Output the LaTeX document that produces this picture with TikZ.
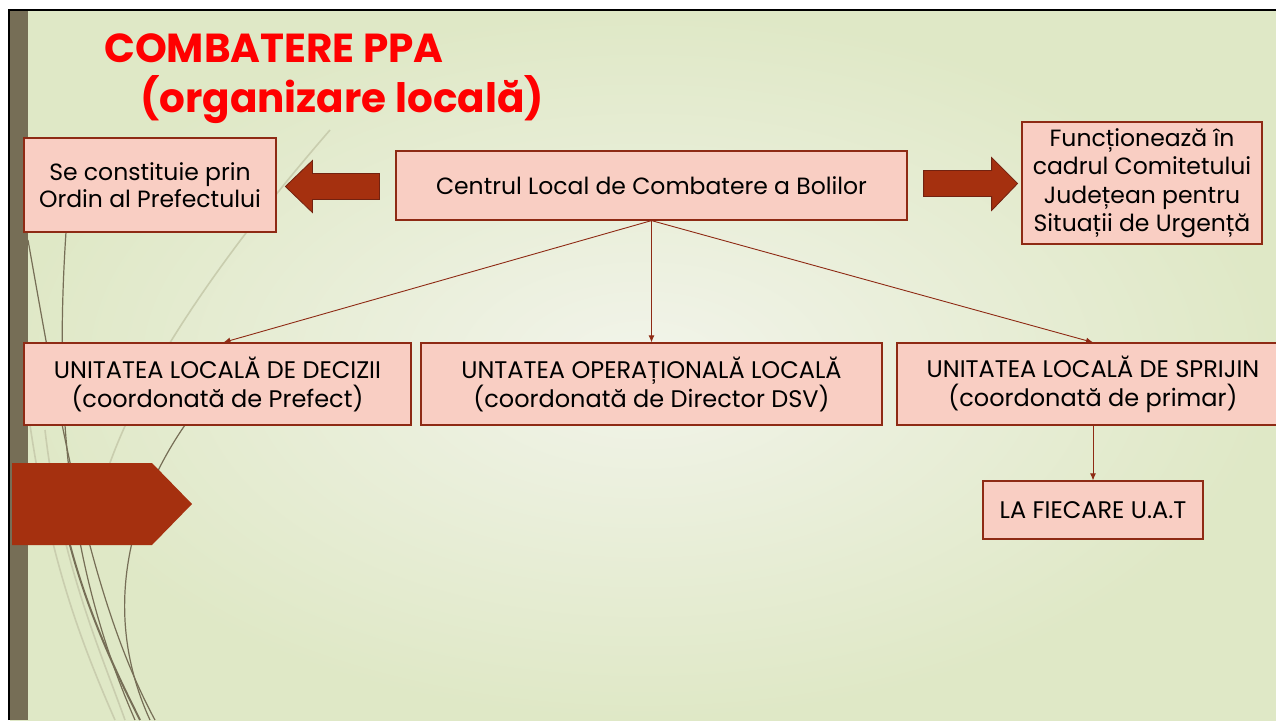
\documentclass[tikz,border=0pt]{standalone}
\usepackage{fontspec}
\setmainfont{Poppins}
\usepackage{xcolor}
\usetikzlibrary{calc}

\definecolor{fundal}{HTML}{DFE8C6}
\definecolor{fundalc}{HTML}{F2F4EA}
\definecolor{maslina}{HTML}{766E56}
\definecolor{maslinac}{HTML}{C9CDAE}
\definecolor{roz}{HTML}{F9CEC3}
\definecolor{caramiziu}{HTML}{8E2A14}
\definecolor{rosu}{HTML}{A5300F}

\tikzset{
  cutie/.style={draw=caramiziu, line width=1.2pt, fill=roz, align=center,
    font=\fontsize{23.5}{27}\selectfont, inner sep=2pt},
  cutiejos/.style={cutie, font=\fontsize{24}{29}\selectfont},
  leg/.style={->, >={Latex[length=7pt,width=6pt]}, caramiziu, line width=0.9pt},
  sageata/.style={fill=rosu, draw=caramiziu!80!black, line width=0.8pt},
  linie/.style={maslina, line width=1.6pt},
  liniec/.style={maslinac, line width=1.6pt}
}
\usetikzlibrary{arrows.meta}

\begin{document}
\begin{tikzpicture}[x=1pt, y=-1pt]
    \useasboundingbox (0,0) rectangle (1276,720);

    % fundal si chenar
    \fill[white] (0,0) rectangle (1276,720);
    \shade[inner color=fundalc, outer color=fundal] (10,10) rectangle (1276,720);
    \fill[maslina] (10,10) rectangle (28,720);
    \draw[black, line width=2pt] (9,720) -- (9,10) -- (1276,10);

    % liniile decorative
    \draw[liniec] (330,130) .. controls (200,280) and (110,420) .. (95,520);
    \draw[liniec] (30,425) .. controls (50,560) and (80,640) .. (115,720);
    \draw[liniec] (45,430) .. controls (60,560) and (100,650) .. (125,720);
    \draw[linie, line width=1.2pt] (28,240) .. controls (60,420) and (90,600) .. (155,720);
    \draw[linie, line width=1.2pt] (66,232) .. controls (55,400) and (65,560) .. (135,720);
    \draw[linie, line width=1.2pt] (185,425) .. controls (140,490) and (95,600) .. (150,720);
    \draw[linie, line width=2pt] (70,545) .. controls (90,620) and (120,680) .. (140,720);

    % sageata pe stanga
    \fill[rosu] (12,463) -- (152,463) -- (192,504) -- (152,545) -- (12,545) -- cycle;

    % titlu
    \node[anchor=base west, text=red, font=\fontsize{40.5}{48}\selectfont\bfseries, inner sep=0]
      at (104,62) (titlu1) {COMBATERE PPA};
    \node[anchor=base west, text=red, font=\fontsize{40.5}{48}\selectfont\bfseries, inner sep=0]
      at (140,112) (titlu2) {(organizare locală)};

    % cutiile
    \node[cutie, minimum width=511, minimum height=69] at (651.5,185.5) (clcb)
      {Centrul Local de Combatere a Bolilor};
    \node[cutie, minimum width=252, minimum height=94] at (150,185) (ordin)
      {Se constituie prin\\Ordin al Prefectului};
    \node[cutie, minimum width=240, minimum height=122, font=\fontsize{23.5}{28.5}\selectfont]
      at (1142,183) (cjsu)
      {Funcționează în\\cadrul Comitetului\\Județean pentru\\Situații de Urgență};

    \node[cutiejos, minimum width=387, minimum height=82] at (217.5,384) (uld)
      {UNITATEA LOCALĂ DE DECIZII\\(coordonată de Prefect)};
    \node[cutiejos, minimum width=461, minimum height=82] at (651.5,384) (uol)
      {UNTATEA OPERAȚIONALĂ LOCALĂ\\(coordonată de Director DSV)};
    \node[cutiejos, minimum width=392, minimum height=82] at (1093,384) (uls)
      {UNITATEA LOCALĂ DE SPRIJIN\\(coordonată de primar)};
    \node[cutiejos, minimum width=220, minimum height=58] at (1093,510) (uat)
      {LA FIECARE U.A.T};

    % sagetile groase
    \draw[sageata] ($(clcb.west)+(-16,-12)$) -- ++(-67,0) -- ++(0,-13) -- ++(-27,26)
      -- ++(27,26) -- ++(0,-13) -- ++(67,0) -- cycle;
    \draw[sageata] ($(clcb.east)+(16,-15)$) -- ++(68,0) -- ++(0,-13) -- ++(26,26)
      -- ++(-26,27) -- ++(0,-14) -- ++(-68,0) -- cycle;

    % legaturi
    \draw[leg] (clcb.south) -- ([xshift=6]uld.north);
    \draw[leg] (clcb.south) -- (uol.north);
    \draw[leg] (clcb.south) -- (uls.north);
    \draw[leg] (uls.south) -- (uat.north);

  \end{tikzpicture}
\end{document}
